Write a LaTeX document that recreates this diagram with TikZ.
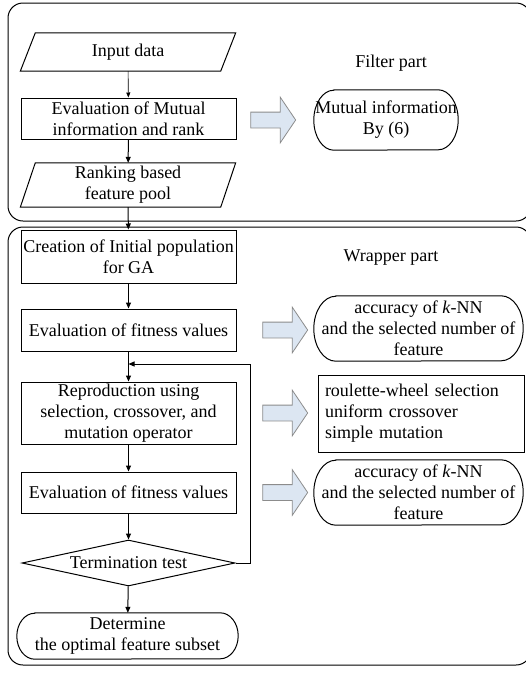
\documentclass[tikz,border=0pt]{standalone}
\usepackage{fontspec}
\setmainfont{Liberation Serif}
\usetikzlibrary{arrows.meta,shapes.geometric,shapes.arrows}
\definecolor{arrfill}{RGB}{220,230,242}
\definecolor{arredge}{RGB}{140,140,140}
% #1 node name, #2 horizontal end radius, #3 half height
\newcommand\termdraw[3]{%
  \draw[line width=1pt] ([xshift=#2]#1.north west) -- ([xshift=-#2]#1.north east)
    arc[start angle=90, end angle=-90, x radius=#2, y radius=#3]
    -- ([xshift=#2]#1.south west)
    arc[start angle=270, end angle=90, x radius=#2, y radius=#3] -- cycle;}
\begin{document}
\begin{tikzpicture}[x=1pt,y=-1pt,
  font=\fontsize{18}{21}\selectfont,
  box/.style={draw, line width=1pt, minimum width=215, inner sep=0, align=center},
  paratext/.style={minimum width=200, inner sep=0, align=center},
  parashape/.style={line width=1pt},
  termtext/.style={inner sep=0, align=center},
  decide/.style={draw, diamond, line width=1pt, inner sep=0, minimum width=213, minimum height=46, aspect=4.6},
  blockarrow/.style={single arrow, draw=arredge, fill=arrfill, line width=0.8pt,
    minimum height=45, single arrow head extend=15, inner xsep=0, inner ysep=7.5,
    single arrow tip angle=112},
  flow/.style={-{Triangle[length=6,width=5]}, line width=1pt},
  thinflow/.style={-{Triangle[length=5,width=4]}, line width=0.6pt},
  region/.style={draw, line width=1pt, rounded corners=15},
  label/.style={inner sep=0}]
\useasboundingbox (0,0) rectangle (526,673);

% regions (right edge lies just beyond the picture)
\begin{scope}
\clip (0,0) rectangle (526,673);
\draw[region] (8,3) rectangle (531,221);
\draw[region] (8,227) rectangle (531,665);
\end{scope}
\node[label] (filterlbl) at (391,63) {Filter part};
\node[label] (wrapperlbl) at (391,258) {Wrapper part};

% left column
\node[paratext, minimum height=38] (inp) at (128,52) {Input data};
\draw[parashape] ([xshift=-7.5pt]inp.south west) -- ([xshift=7.5pt]inp.north west) -- ([xshift=7.5pt]inp.north east) -- ([xshift=-7.5pt]inp.south east) -- cycle;

\node[box, minimum height=41] (evmi) at (128.5,118.5) {Evaluation of Mutual\\information and rank};

\node[paratext, minimum height=44] (rank) at (128,185) {Ranking based\\feature pool};
\draw[parashape] ([xshift=-7.5pt]rank.south west) -- ([xshift=7.5pt]rank.north west) -- ([xshift=7.5pt]rank.north east) -- ([xshift=-7.5pt]rank.south east) -- cycle;

\node[box, minimum height=53] (create) at (128.5,256.5) {Creation of Initial population\\for GA};
\node[box, minimum height=42] (evfit1) at (128.5,330) {Evaluation of fitness values};
\node[box, minimum height=62] (repro) at (128.5,413) {Reproduction using\\selection, crossover, and\\mutation operator};
\node[box, minimum height=41] (evfit2) at (128.5,492.5) {Evaluation of fitness values};
\node[decide] (dia) at (128.5,563) {Termination test};
\node[termtext, minimum width=221, minimum height=46] (det) at (127.5,636) {Determine\\the optimal feature subset};
\termdraw{det}{18pt}{23pt}

% connectors
\draw[thinflow] (inp) -- (evmi);
\draw[flow] (evmi) -- (rank);
\draw[flow] (rank) -- (create);
\draw[flow] (create) -- (evfit1);
\draw[flow] (evfit1) -- (repro);
\draw[flow] (repro) -- (evfit2);
\draw[flow] (evfit2) -- (dia);
\draw[flow] (dia) -- (det);
\coordinate (loopend) at (128.5,364);
\draw[flow] (dia.east) -- ++(15,0) |- (loopend);

% right column
\node[blockarrow] (ba1) at (270.5,120) {};
\node[blockarrow] (ba2) at (282.5,330) {};
\node[blockarrow] (ba3) at (282.5,413) {};
\node[blockarrow] (ba4) at (282.5,492.5) {};

\node[termtext, minimum width=144, minimum height=60] (mi) at (386,120) {Mutual information\\By (6)};
\termdraw{mi}{20pt}{30pt}
\node[termtext, minimum width=209, minimum height=65] (acc1) at (418.5,328.5) {accuracy of \textit{k}-NN\\and the selected number of\\feature};
\termdraw{acc1}{22pt}{32.5pt}
\node[draw, line width=1pt, minimum width=206, minimum height=77, text width=192, inner xsep=7, inner ysep=0, align=left] (roul) at (421,413.5) {roulette-wheel selection\\uniform crossover\\simple mutation};
\node[termtext, minimum width=209, minimum height=65] (acc2) at (418.5,492.5) {accuracy of \textit{k}-NN\\and the selected number of\\feature};
\termdraw{acc2}{22pt}{32.5pt}
\end{tikzpicture}
\end{document}
